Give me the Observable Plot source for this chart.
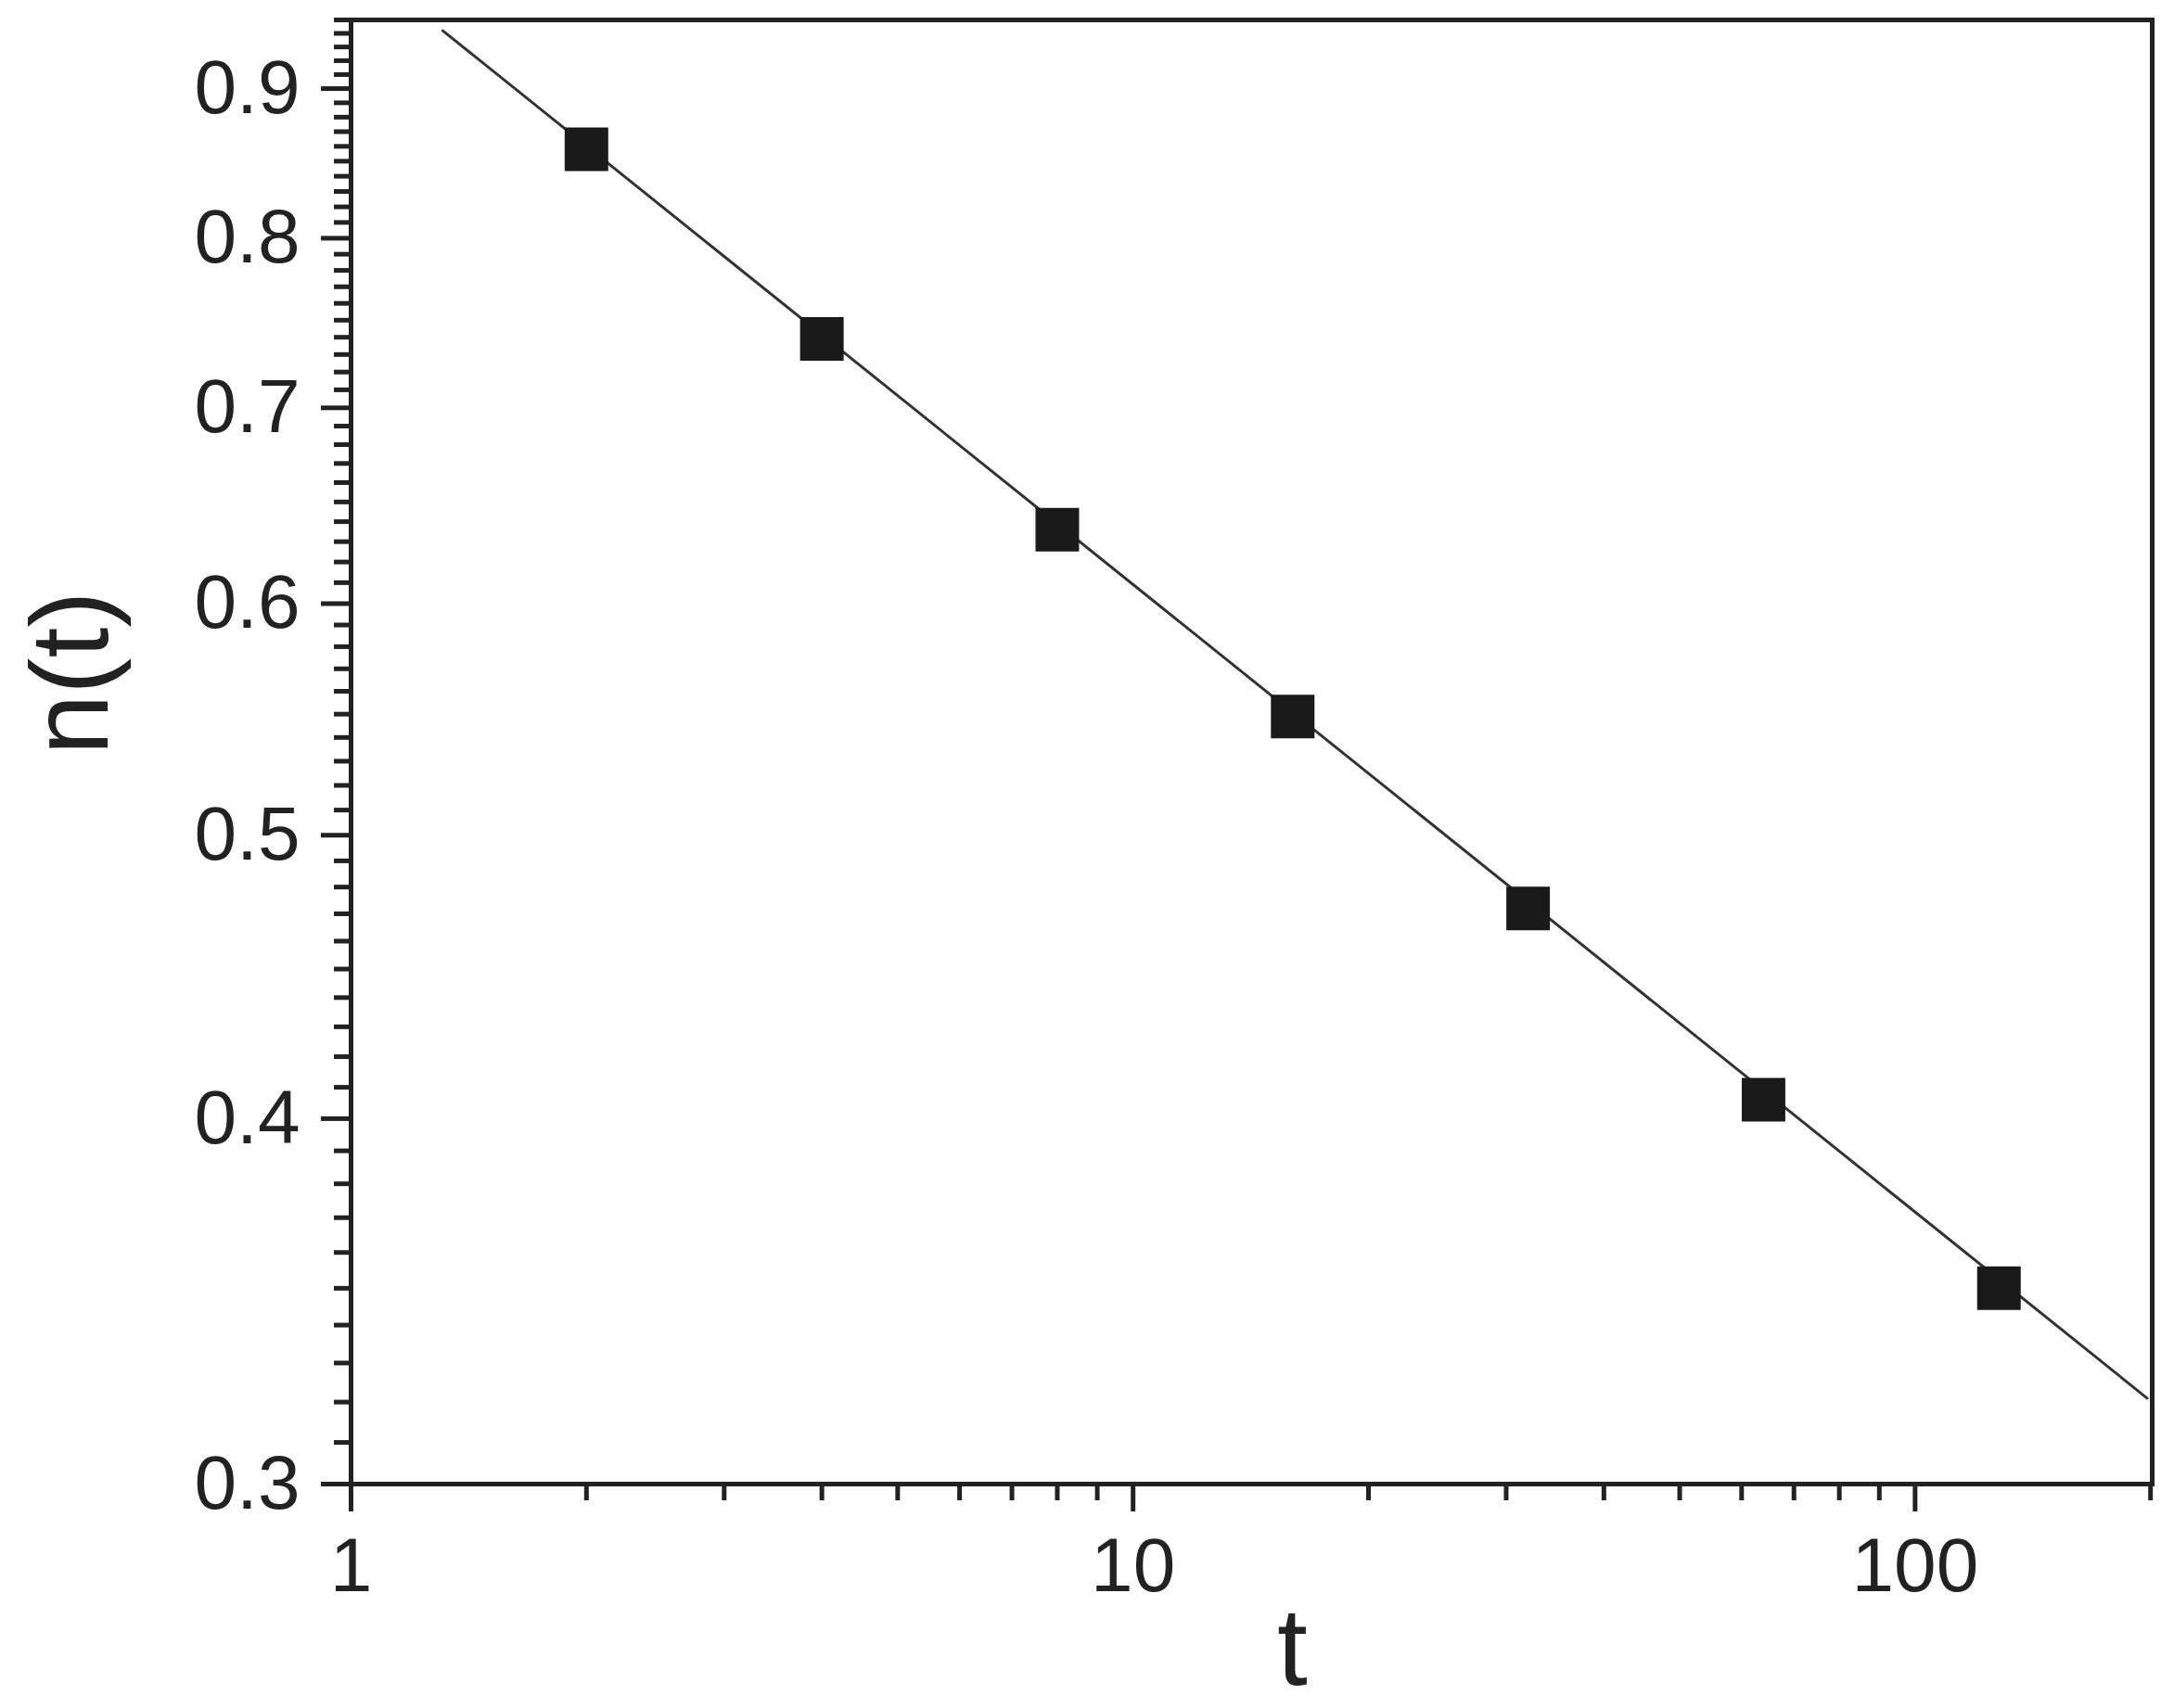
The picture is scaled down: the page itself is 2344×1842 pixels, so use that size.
<!DOCTYPE html>
<html>
<head>
<meta charset="utf-8">
<script src="https://cdn.jsdelivr.net/npm/d3@7"></script>
<script src="https://cdn.jsdelivr.net/npm/@observablehq/plot@0.6"></script>
<style>
  html, body { margin: 0; padding: 0; background: #fff; }
</style>
</head>
<body>
<div id="chart"></div>
<script>
// Measured data points
const tValues = [2, 4, 8, 16, 32, 64, 128];
const nValues = [0.858, 0.739, 0.636, 0.549, 0.472, 0.406, 0.350];

// Fitted power-law line (end points, straight on log-log axes)
const fitT = [1.31, 198];
const fitN = [0.942, 0.321];

// Axis ticks
const xMajorTicks = [1, 10, 100];
const xMinorTicks = [2, 3, 4, 5, 6, 7, 8, 9, 20, 30, 40, 50, 60, 70, 80, 90, 200];
const yMajorTicks = [0.3, 0.4, 0.5, 0.6, 0.7, 0.8, 0.9];
const yMinorTicks = [
  0.31, 0.32, 0.33, 0.34, 0.35, 0.36, 0.37, 0.38, 0.39,
  0.41, 0.42, 0.43, 0.44, 0.45, 0.46, 0.47, 0.48, 0.49,
  0.51, 0.52, 0.53, 0.54, 0.55, 0.56, 0.57, 0.58, 0.59,
  0.61, 0.62, 0.63, 0.64, 0.65, 0.66, 0.67, 0.68, 0.69,
  0.71, 0.72, 0.73, 0.74, 0.75, 0.76, 0.77, 0.78, 0.79,
  0.81, 0.82, 0.83, 0.84, 0.85, 0.86, 0.87, 0.88, 0.89,
  0.91, 0.92, 0.93, 0.94, 0.95
];
const xTitle = "t";
const yTitle = "n(t)";

const points = tValues.map((t, i) => ({t, n: nValues[i]}));
const fit = fitT.map((t, i) => ({t, n: fitN[i]}));

const ink = "#222";

const chart = Plot.plot({
  width: 2344,
  height: 1842,
  marginLeft: 378,
  marginRight: 24,
  marginTop: 21,
  marginBottom: 242,
  style: {background: "#fff", color: ink, fontFamily: "'Liberation Sans', Arial, sans-serif"},
  x: {type: "log", domain: [1, 201]},
  y: {type: "log", domain: [0.3, 0.95]},
  marks: [
    // minor ticks
    Plot.axisX(xMinorTicks, {tickSize: 18, strokeWidth: 5, text: null, label: null, stroke: ink}),
    Plot.axisY(yMinorTicks, {tickSize: 18, strokeWidth: 5, text: null, label: null, stroke: ink}),
    // major ticks + labels
    Plot.axisX(xMajorTicks, {
      tickSize: 30, tickPadding: 27, strokeWidth: 5, stroke: ink,
      fontSize: 82, tickFormat: d3.format("d"), label: null, fill: ink
    }),
    Plot.axisY(yMajorTicks, {
      tickSize: 32, tickPadding: 23, strokeWidth: 5, stroke: ink,
      fontSize: 82, tickFormat: d3.format(".1f"), label: null, fill: ink
    }),
    Plot.frame({stroke: ink, strokeWidth: 5}),
    Plot.line(fit, {x: "t", y: "n", stroke: "#333", strokeWidth: 3}),
    Plot.dot(points, {x: "t", y: "n", symbol: "square", r: 26.5, fill: "#1a1a1a", stroke: "none"}),
    // axis titles
    Plot.text([xTitle], {frameAnchor: "bottom", text: d => d, fontSize: 118, textAnchor: "middle", lineAnchor: "bottom", dx: 44, dy: 216, fill: ink}),
    Plot.text([yTitle], {frameAnchor: "left", text: d => d, fontSize: 118, rotate: -90, textAnchor: "middle", lineAnchor: "bottom", dx: -263, dy: -85, fill: ink})
  ]
});
document.getElementById("chart").appendChild(chart);
</script>
</body>
</html>
